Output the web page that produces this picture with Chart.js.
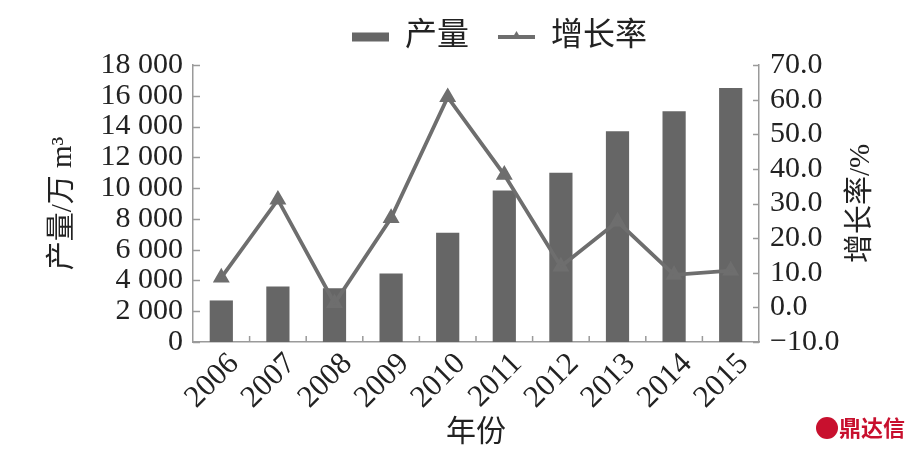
<!DOCTYPE html>
<html>
<head>
<meta charset="utf-8">
<script src="https://cdn.jsdelivr.net/npm/chart.js@4.4.0/dist/chart.umd.min.js"></script>
<style>
  html, body { margin: 0; padding: 0; background: #fff; }
</style>
</head>
<body>
<canvas id="chart" width="913" height="451"></canvas>
<script>
// Data
const years = ['2006', '2007', '2008', '2009', '2010', '2011', '2012', '2013', '2014', '2015'];
const output = [2700, 3600, 3500, 4450, 7100, 9850, 11000, 13700, 15000, 16500];   // 万 m3
const growth = [8.6, 31.1, 1.2, 25.8, 60.7, 38.3, 11.8, 24.8, 9.4, 10.6];           // %

const seriesNames = ['产量', '增长率'];
const xTitle = '年份';
const leftTitle = '产量/万 m³';
const rightTitle = '增长率/%';

const FONT = "'Liberation Serif', 'Noto Sans CJK SC', serif";
const BAR = '#666666';
const LINE = '#6e6e6e';
const AXIS = '#9a9a9a';

function fmtThousands(v) {
    return String(v).replace(/\B(?=(\d{3})+(?!\d))/g, ' ');
}

function triangle(ctx, x, y, r) {
    ctx.beginPath();
    ctx.moveTo(x, y - r);
    ctx.lineTo(x + r * 0.95, y + r * 0.6);
    ctx.lineTo(x - r * 0.95, y + r * 0.6);
    ctx.closePath();
    ctx.fill();
}

// inward tick marks, right axis title, legend nudge, watermark
const decorations = {
    id: 'decorations',
    beforeInit(chart) {
        const legend = chart.legend;
        if (legend) {
            const fit = legend.fit;
            legend.fit = function () { fit.call(this); this.height = 65; };
        }
    },
    afterLayout(chart) {
        // the legend sits right of centre and a little higher in the original
        chart.legend.left += 86;
        chart.legend.top -= 8;
    },
    afterDraw(chart) {
        const { ctx } = chart;
        const hb = chart.legend.legendHitBoxes[1];
        if (hb) {
            ctx.save();
            ctx.fillStyle = LINE;
            triangle(ctx, hb.left + 37 / 2, hb.top + hb.height / 2 - 1, 5);
            ctx.restore();
        }
    },
    afterDatasetsDraw(chart) {
        const { ctx, chartArea, scales } = chart;
        ctx.save();
        ctx.strokeStyle = AXIS;
        ctx.lineWidth = 1.5;
        ctx.beginPath();
        scales.y.ticks.forEach(t => {
            const py = Math.round(scales.y.getPixelForValue(t.value)) + 0.5;
            ctx.moveTo(chartArea.left, py);
            ctx.lineTo(chartArea.left + 7, py);
        });
        scales.y1.ticks.forEach(t => {
            const py = Math.round(scales.y1.getPixelForValue(t.value)) + 0.5;
            ctx.moveTo(chartArea.right, py);
            ctx.lineTo(chartArea.right - 6, py);
        });
        for (let i = 1; i < years.length; i++) {
            const px = (scales.x.getPixelForValue(i - 1) + scales.x.getPixelForValue(i)) / 2;
            ctx.moveTo(px, chartArea.bottom);
            ctx.lineTo(px, chartArea.bottom - 6);
        }
        ctx.stroke();

        // right axis title, reading bottom to top like the left one
        ctx.fillStyle = '#222';
        ctx.font = '29px ' + FONT;
        ctx.textAlign = 'center';
        ctx.textBaseline = 'middle';
        ctx.translate(861, (chartArea.top + chartArea.bottom) / 2);
        ctx.rotate(-Math.PI / 2);
        ctx.fillText(rightTitle, 0, 0);
        ctx.restore();

        ctx.save();
        ctx.fillStyle = '#c8102e';
        ctx.font = 'bold 22px "Noto Sans CJK SC", sans-serif';
        ctx.textAlign = 'right';
        ctx.textBaseline = 'middle';
        ctx.fillText('鼎达信', 905, 428);
        ctx.beginPath();
        ctx.arc(827, 428, 11, 0, Math.PI * 2);
        ctx.fill();
        ctx.restore();
    }
};

new Chart(document.getElementById('chart'), {
    data: {
        labels: years,
        datasets: [{
            type: 'bar',
            label: seriesNames[0],
            data: output,
            backgroundColor: BAR,
            yAxisID: 'y',
            order: 1,
            barPercentage: 0.82,
            categoryPercentage: 0.5
        }, {
            type: 'line',
            label: seriesNames[1],
            data: growth,
            borderColor: LINE,
            backgroundColor: LINE,
            borderWidth: 3.8,
            pointStyle: 'triangle',
            pointRadius: 6,
            pointBackgroundColor: LINE,
            pointBorderColor: LINE,
            tension: 0,
            yAxisID: 'y1',
            order: 0
        }]
    },
    options: {
        responsive: false,
        devicePixelRatio: 1,
        animation: false,
        plugins: {
            tooltip: { enabled: false },
            legend: {
                position: 'top',
                labels: {
                    color: '#222',
                    font: { family: FONT, size: 32 },
                    usePointStyle: true,
                    boxHeight: 9,
                    pointStyleWidth: 37,
                    padding: 29,
                    generateLabels(chart) {
                        return chart.data.datasets.map((ds, i) => ({
                            text: ds.label,
                            datasetIndex: i,
                            pointStyle: ds.type === 'bar' ? 'rect' : 'line',
                            fillStyle: ds.type === 'bar' ? BAR : LINE,
                            strokeStyle: ds.type === 'bar' ? BAR : LINE,
                            lineWidth: ds.type === 'bar' ? 0 : 4,
                            fontColor: '#222'
                        }));
                    }
                }
            }
        },
        scales: {
            x: {
                grid: { display: false },
                border: { color: AXIS, width: 1.5 },
                ticks: {
                    color: '#222',
                    font: { family: FONT, size: 31 },
                    minRotation: 45,
                    maxRotation: 45,
                    autoSkip: false,
                    labelOffset: 13,
                    padding: -4
                },
                title: {
                    display: true,
                    text: xTitle,
                    color: '#222',
                    font: { family: FONT, size: 30 },
                    padding: { top: 0, bottom: 0 }
                },
                afterFit(scale) { scale.height = 109; }
            },
            y: {
                position: 'left',
                min: 0,
                max: 18000,
                grid: { display: false },
                border: { color: AXIS, width: 1.5 },
                ticks: {
                    stepSize: 2000,
                    autoSkip: false,
                    color: '#222',
                    font: { family: FONT, size: 30 },
                    padding: 2,
                    callback: v => fmtThousands(v)
                },
                title: {
                    display: true,
                    text: leftTitle,
                    color: '#222',
                    font: { family: FONT, size: 29 },
                    padding: { top: 46, bottom: 0 }
                },
                afterFit(scale) { scale.width = 193; }
            },
            y1: {
                position: 'right',
                min: -10,
                max: 70,
                grid: { display: false },
                border: { color: AXIS, width: 1.5 },
                ticks: {
                    stepSize: 10,
                    autoSkip: false,
                    color: '#222',
                    font: { family: FONT, size: 30 },
                    padding: 3,
                    callback: v => (v < 0 ? '\u2212' + Math.abs(v).toFixed(1) : v.toFixed(1))
                },
                afterFit(scale) { scale.width = 154; }
            }
        }
    },
    plugins: [decorations]
});
</script>
</body>
</html>
